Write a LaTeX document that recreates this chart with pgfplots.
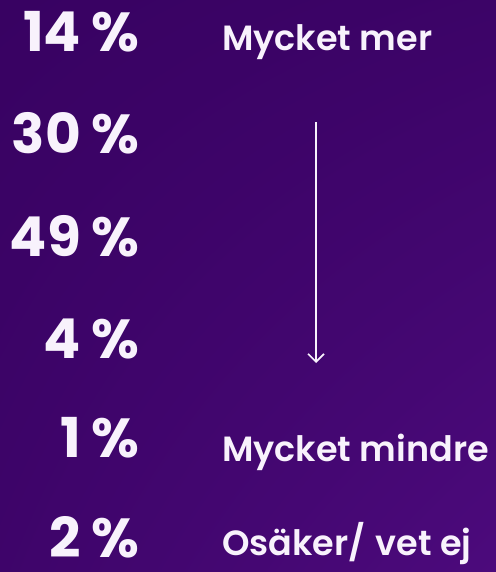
\documentclass[border=0pt]{standalone}
\usepackage{fontspec}
\setmainfont{Poppins}
\newfontfamily\labfont{Poppins SemiBold}
\newfontfamily\numfont{Poppins Bold}
\usepackage{pgfplots}
\pgfplotsset{compat=1.18}
\usetikzlibrary{shadings,arrows.meta}
\definecolor{bgA}{RGB}{56,2,98}
\definecolor{bgB}{RGB}{76,10,124}
\definecolor{txt}{RGB}{248,242,252}
\begin{document}
\begin{tikzpicture}
\begin{axis}[
  width=496bp, height=572bp, scale only axis,
  xmin=0, xmax=496, ymin=0, ymax=572, y dir=reverse,
  hide axis, clip=false,
  /pgf/number format/assume math mode=true,
]
\shade[upper left=bgA, upper right=bgA!80!bgB, lower left=bgA!70!bgB, lower right=bgB]
  (axis cs:0,0) rectangle (axis cs:496,572);
\addplot[only marks, mark=none, point meta=explicit,
  nodes near coords={\pgfmathprintnumber{\pgfplotspointmeta}\hspace{11bp}\%},
  every node near coord/.style={anchor=base east, inner sep=0pt, text=txt,
    font=\numfont\fontsize{55bp}{60bp}\selectfont}]
  coordinates {
  (140,52) [14]
  (140,153) [30]
  (140,256) [49]
  (140,358) [4]
  (140,457) [1]
  (140,557) [2]
  };
\node[anchor=base west, inner sep=0pt, text=txt, font=\labfont\fontsize{35bp}{38bp}\selectfont] at (axis cs:222,51) {Mycket mer};
\node[anchor=base west, inner sep=0pt, text=txt, font=\labfont\fontsize{35bp}{38bp}\selectfont] at (axis cs:222,461) {Mycket mindre};
\node[anchor=base west, inner sep=0pt, text=txt, font=\labfont\fontsize{35bp}{38bp}\selectfont] at (axis cs:222,555) {Osäker/\hspace{10bp}vet ej};
\draw[txt, line width=1.6bp, -{Straight Barb[length=8bp, width=16bp]}] (axis cs:316,122) -- (axis cs:316,363);
\end{axis}
\end{tikzpicture}
\end{document}
